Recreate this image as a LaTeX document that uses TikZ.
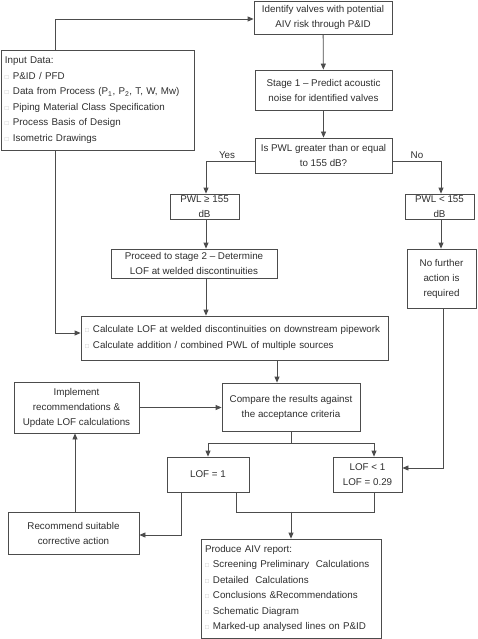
\documentclass[tikz,border=0pt]{standalone}
\usepackage{fontspec}
\setmainfont{Liberation Sans}
\usepackage{xcolor}
\usetikzlibrary{arrows.meta,positioning,calc}

\definecolor{linegray}{gray}{0.3}
\definecolor{textgray}{gray}{0.18}
\newcommand{\bx}{{\color{gray!55}\fontsize{6.5}{6.5}\selectfont\char"25A1}\hspace{4pt}}

\tikzset{
  blk/.style={draw=linegray, line width=0.8pt, text=textgray, align=center, inner sep=0pt,
    font=\fontsize{9.8}{15}\selectfont},
  lst/.style={blk, align=left, inner xsep=4pt, font=\fontsize{9.8}{15.5}\selectfont},
  flow/.style={draw=linegray, line width=0.8pt, -{Triangle[length=6pt,width=5pt]}},
  lnk/.style={draw=linegray, line width=0.8pt}
}

\begin{document}
\begin{tikzpicture}[x=1pt, y=-1pt]
  \useasboundingbox (0,0) rectangle (478,639);
  \node[blk, minimum width=138, minimum height=33] (ident) at (323,17.5) {Identify valves with potential\\AIV risk through P\&ID};
  \node[blk, minimum width=137, minimum height=40] (stage) at (323.5,90) {Stage 1 -- Predict acoustic\\noise for identified valves};
  \node[blk, minimum width=137, minimum height=35] (pwlq) at (323.5,155.5) {Is PWL greater than or equal\\to 155 dB?};
  \node[blk, minimum width=69, minimum height=25] (pwlge) at (204.5,206.5) {PWL ≥ 155\\dB};
  \node[blk, minimum width=69, minimum height=25] (pwllt) at (439.5,206.5) {PWL < 155\\dB};
  \node[blk, minimum width=166, minimum height=29] (proceed) at (194,263.5) {Proceed to stage 2 -- Determine\\LOF at welded discontinuities};
  \node[blk, minimum width=69, minimum height=59] (nofurther) at (441.5,278.5) {No further\\action is\\required};
  \node[lst, text width=185, minimum height=100] (input) at (97.5,100) {Input Data:\\\bx P\&ID / PFD\\\bx Data from Process (P\textsubscript{1}, P\textsubscript{2}, T, W, Mw)\\\bx Piping Material Class Specification\\\bx Process Basis of Design\\\bx Isometric Drawings};
  \node[lst, text width=299, minimum height=44] (calc) at (234.5,338) {\bx Calculate LOF at welded discontinuities on downstream pipework\\\bx Calculate addition / combined PWL of multiple sources};
  \node[blk, minimum width=138, minimum height=48] (compare) at (291,407) {Compare the results against\\the acceptance criteria};
  \node[blk, minimum width=125, minimum height=51] (impl) at (76.5,407.5) {Implement\\recommendations \&\\Update LOF calculations};
  \node[blk, minimum width=82, minimum height=35] (lofone) at (208,474.5) {LOF = 1};
  \node[blk, minimum width=69, minimum height=35] (loflt) at (367.5,474.5) {LOF < 1\\LOF = 0.29};
  \node[blk, minimum width=131, minimum height=42] (recommend) at (73.5,533) {Recommend suitable\\corrective action};
  \node[lst, text width=172, minimum height=99] (report) at (291,588.5) {Produce AIV report:\\\bx Screening Preliminary~ Calculations\\\bx Detailed~ Calculations\\\bx Conclusions \&Recommendations\\\bx Schematic Diagram\\\bx Marked-up analysed lines on P\&ID};
  \node[text=textgray, font=\fontsize{9.8}{12}\selectfont] (yes) at (227,155) {Yes};
  \node[text=textgray, font=\fontsize{9.8}{12}\selectfont] (no) at (417,155) {No};

  \draw[flow] ([xshift=55pt]input.north west) |- ([yshift=-1.5pt]ident.west);
  \draw[flow] (ident) -- (stage);
  \draw[flow] (stage) -- (pwlq);
  \draw[flow] ([yshift=-5.5pt]pwlq.west) -| ([xshift=1.5pt]pwlge.north);
  \draw[flow] ([yshift=-5.5pt]pwlq.east) -| ([xshift=1.5pt]pwllt.north);
  \draw[flow] ([xshift=1.5pt]pwlge.south) -- ([xshift=1.5pt]pwlge.south |- proceed.north);
  \draw[flow] ([xshift=1.5pt]pwllt.south) -- ([xshift=1.5pt]pwllt.south |- nofurther.north);
  \draw[flow] ([xshift=12pt]proceed.south) -- ([xshift=12pt]proceed.south |- calc.north);
  \draw[flow] ([xshift=55pt]input.south west) |- ([yshift=5pt]calc.west);
  \draw[flow] ([xshift=1.5pt]nofurther.south) |- ([yshift=6.5pt]loflt.east);
  \draw[flow] ([xshift=-14pt]compare.north |- calc.south) -- ([xshift=-14pt]compare.north);
  \draw[flow] (impl.east) -- (impl.east -| compare.west);
  \draw[flow] (compare.south) -- ++(0,12) -| (lofone.north);
  \draw[flow] (compare.south) -- ++(0,12) -| ([xshift=6.5pt]loflt.north);
  \draw[flow] ([xshift=-27pt]lofone.south) |- ([yshift=-2pt]recommend.east);
  \draw[flow] ([xshift=1.5pt]recommend.north) -- ([xshift=1.5pt]recommend.north |- impl.south);
  \draw[lnk] ([xshift=28pt]lofone.south) -- ++(0,20) -| ([xshift=6.5pt]loflt.south);
  \draw[flow] (report.north) ++(0,-27) -- (report.north);
\end{tikzpicture}
\end{document}
